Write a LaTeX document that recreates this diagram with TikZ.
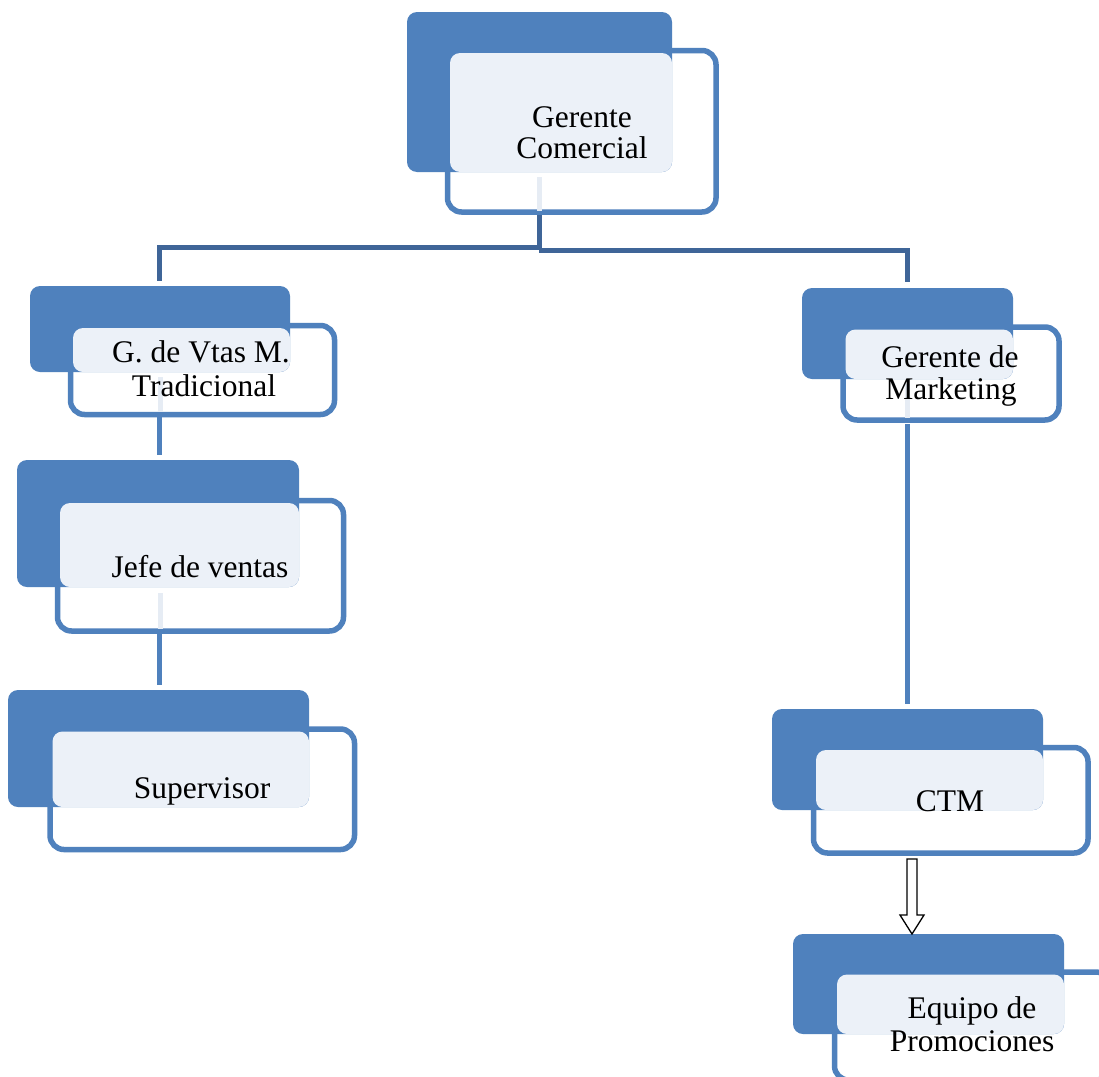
\documentclass[tikz,border=0pt]{standalone}
\usepackage{fontspec}
\setmainfont{Liberation Serif}
\usetikzlibrary{calc}
\definecolor{accent}{HTML}{4F81BD}
\definecolor{pale}{HTML}{ECF1F8}
\definecolor{darkline}{HTML}{3F6598}
\definecolor{paleline}{HTML}{E6ECF4}
\tikzset{
  frontbox/.style={draw=accent, line width=5.5pt, fill=white, rounded corners=14pt},
  backbox/.style={fill=accent, rounded corners=10pt},
  lightbox/.style={fill=pale, rounded corners=10pt},
  boxlabel/.style={anchor=base, inner sep=0pt, font=\fontsize{31.5}{33}\selectfont},
  darkconn/.style={draw=darkline, line width=5pt},
  blueconn/.style={draw=accent, line width=5pt},
  paleconn/.style={draw=paleline, line width=5pt},
  hollowarrow/.style={draw=black, line width=1.3pt, fill=white, line join=miter},
}
\newcommand\orgbox[9]{%
  \coordinate (#1-b1) at (#2,#3);
  \coordinate (#1-b2) at (#4,#5);
  \coordinate (#1-f1) at (#6,#7);
  \coordinate (#1-f2) at (#8,#9);
  \path[frontbox] (#1-f1) rectangle (#1-f2);
  \path[backbox] (#1-b1) rectangle (#1-b2);
  \path[lightbox] ($(#1-f1)+(2.5,2.5)$) rectangle (#1-b2);
}
\begin{document}
\begin{tikzpicture}[x=1pt,y=-1pt]
\useasboundingbox (0,0) rectangle (1099,1076);
\clip (0,0) rectangle (1099,1076);
\fill[white] (0,0) rectangle (1099,1076);

% boxes
\orgbox{gc}{407}{12}{672}{172}{447.5}{50.5}{716}{212}
\orgbox{gv}{30}{286}{290}{372}{70.5}{325.5}{334.5}{414.5}
\orgbox{jf}{17}{460}{299}{587}{57.5}{500.5}{343.5}{631}
\orgbox{sv}{8}{690}{309}{807}{50}{729}{354.5}{849.5}
\orgbox{mk}{802}{288}{1013}{379}{843}{327}{1059}{420}
\orgbox{ctm}{772}{709}{1043}{810}{813.5}{747.5}{1088}{853}
\orgbox{eq}{793}{934}{1064}{1034}{834.5}{972}{1110}{1080}

% connector points
\coordinate (gc-p1) at (539,177);
\coordinate (gc-p2) at (539,211);
\coordinate (gc-out) at (539,215);
\coordinate (gc-jl) at (539,247);
\coordinate (gc-jr) at (539,250);
\coordinate (gv-in) at (159.5,281);
\coordinate (mk-in) at (907,282);
\coordinate (gv-p1) at (160,377);
\coordinate (gv-p2) at (160,412);
\coordinate (gv-out) at (159,417);
\coordinate (jf-in) at (159,455);
\coordinate (jf-p1) at (160,593);
\coordinate (jf-p2) at (160,629);
\coordinate (jf-out) at (159,634);
\coordinate (sv-in) at (159,685);
\coordinate (mk-p1) at (907.5,384);
\coordinate (mk-p2) at (907.5,418);
\coordinate (mk-out) at (907,424);
\coordinate (ctm-in) at (907,704);
\coordinate (ctm-out) at (912,859);
\coordinate (eq-in) at (912,934);

% connectors
\path[paleconn] (gc-p1) -- (gc-p2);
\path[darkconn] (gc-out) -- (gc-jr);
\path[darkconn] (gc-jl) -- (gc-jl -| gv-in) -- (gv-in);
\path[darkconn] (gc-jr) -- (gc-jr -| mk-in) -- (mk-in);
\path[paleconn] (gv-p1) -- (gv-p2);
\path[blueconn] (gv-out) -- (jf-in);
\path[paleconn] (jf-p1) -- (jf-p2);
\path[blueconn] (jf-out) -- (sv-in);
\path[paleconn] (mk-p1) -- (mk-p2);
\path[blueconn] (mk-out) -- (ctm-in);
\path[hollowarrow] ($(ctm-out)+(-5,0)$) -- ($(ctm-out)+(5,0)$) -- ($(eq-in)+(5,-19)$)
  -- ($(eq-in)+(12,-19)$) -- (eq-in) -- ($(eq-in)+(-12,-19)$) -- ($(eq-in)+(-5,-19)$) -- cycle;

% labels
\node[boxlabel] (gc-t1) at (582,127) {Gerente};
\node[boxlabel] (gc-t2) at (582,158) {Comercial};
\node[boxlabel] (gv-t1) at (201,362) {G. de Vtas M.};
\node[boxlabel] (gv-t2) at (204,396) {Tradicional};
\node[boxlabel] (jf-t) at (200,577) {Jefe de ventas};
\node[boxlabel] (sv-t) at (202,798) {Supervisor};
\node[boxlabel] (mk-t1) at (950,367) {Gerente de};
\node[boxlabel] (mk-t2) at (951,399) {Marketing};
\node[boxlabel] (ctm-t) at (950,811) {CTM};
\node[boxlabel] (eq-t1) at (972,1018) {Equipo de};
\node[boxlabel] (eq-t2) at (972,1051) {Promociones};
\end{tikzpicture}
\end{document}
